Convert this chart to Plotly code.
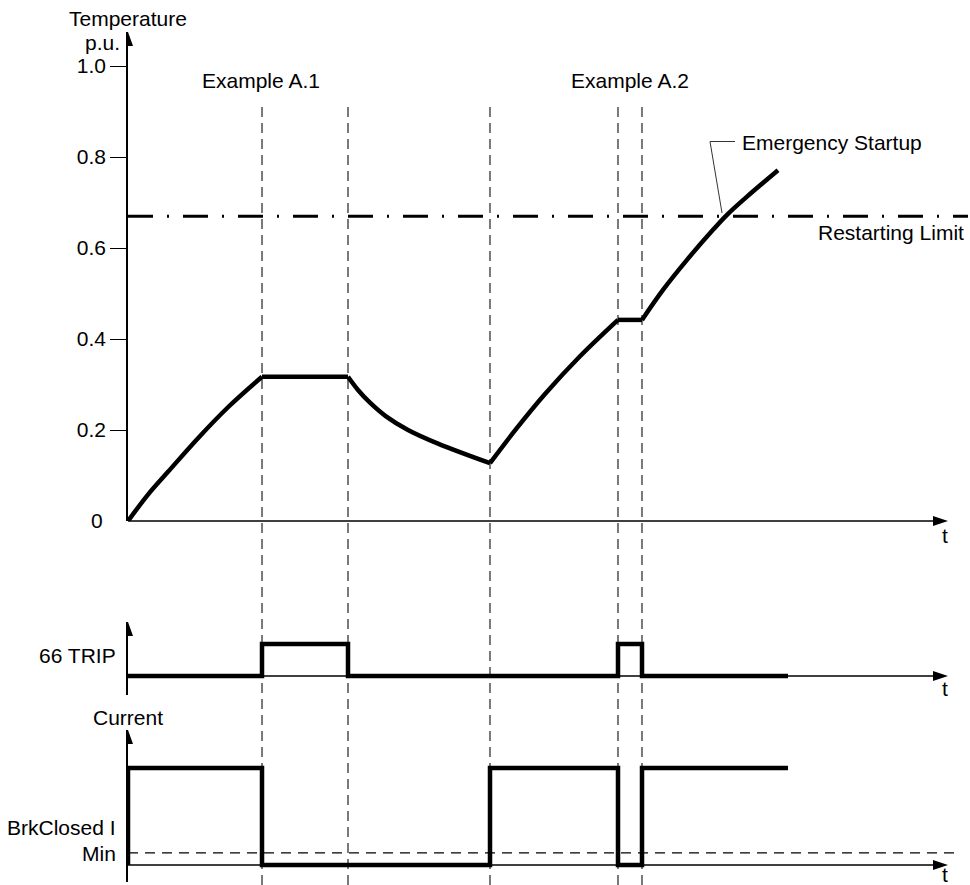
import plotly.graph_objects as go

# ---------------- data ----------------
event_t = [134, 220, 362, 490, 514]          # dashed event markers
temp_t = [0, 20, 40, 70, 100, 134, 220, 230, 242, 258, 280, 310, 362,
          387, 417, 452, 490, 514, 535, 559, 585, 599, 619, 650]
temp_v = [0, 0.058, 0.108, 0.182, 0.250, 0.317, 0.317, 0.288, 0.260, 0.230,
          0.200, 0.170, 0.127, 0.199, 0.279, 0.362, 0.442, 0.442, 0.508,
          0.574, 0.640, 0.673, 0.713, 0.771]
restart_limit = 0.67
limit_t = [0, 840]

trip_t = [0, 134, 220, 490, 514, 660]
trip_v = [0, 1, 0, 1, 0, 0]

current_t = [0, 0, 134, 362, 490, 514, 660]
current_v = [0, 1, 0, 1, 0, 1, 1]
brk_closed_min = 0.124
brk_t = [0, 830]

temp_tickvals = [0.2, 0.4, 0.6, 0.8, 1.0]
temp_ticktext = ["0.2", "0.4", "0.6", "0.8", "1.0"]
zero_tickvals = [0]
zero_ticktext = ["0"]

segment_breaks = [0, 134, 220, 362, 490, 514, 650]

# ---------------- layout geometry (pixels) ----------------
W, H = 970, 885
L = 128
FONT = "Liberation Sans, Arial, sans-serif"
FS = 21


def py(px):
    return (H - px) / H


def pxx(px):
    return (px - L) / (W - L)


TOP_ZERO, TOP_TIP = 521, 32
TRIP_ZERO, TRIP_TOP, TRIP_BOT = 676, 622, 695
CUR_ZERO, CUR_TOP, CUR_BOT = 865, 730, 882
CUR_PX_PER_UNIT = 97
T_TIP = 820  # x of horizontal arrow tips (time units == px offset)

fig = go.Figure()

# temperature curve, drawn per segment so the kinks stay sharp
for a, b in zip(segment_breaks[:-1], segment_breaks[1:]):
    xs = [t for t in temp_t if a <= t <= b]
    ys = [v for t, v in zip(temp_t, temp_v) if a <= t <= b]
    fig.add_trace(go.Scatter(x=xs, y=ys, mode="lines",
                             line=dict(color="black", width=4.5, shape="spline", smoothing=1.0),
                             xaxis="x", yaxis="y", showlegend=False, hoverinfo="skip"))

# restarting limit
fig.add_trace(go.Scatter(x=limit_t, y=[restart_limit] * 2, mode="lines",
                         line=dict(color="black", width=3, dash="25px,14px,2px,14px"),
                         xaxis="x", yaxis="y", showlegend=False, hoverinfo="skip"))

# emergency startup leader line
fig.add_trace(go.Scatter(x=[607, 582, 594], y=[0.834, 0.834, 0.677], mode="lines",
                         line=dict(color="#333", width=1),
                         xaxis="x", yaxis="y", showlegend=False, hoverinfo="skip"))

# 66 TRIP signal
fig.add_trace(go.Scatter(x=trip_t, y=trip_v, mode="lines",
                         line=dict(color="black", width=4.5, shape="hv"),
                         xaxis="x", yaxis="y2", showlegend=False, hoverinfo="skip"))

# BrkClosed I Min threshold
fig.add_trace(go.Scatter(x=brk_t, y=[brk_closed_min] * 2, mode="lines",
                         line=dict(color="black", width=1.2, dash="10px,7px"),
                         xaxis="x", yaxis="y3", showlegend=False, hoverinfo="skip"))

# current signal
fig.add_trace(go.Scatter(x=current_t, y=current_v, mode="lines",
                         line=dict(color="black", width=4.5, shape="hv"),
                         xaxis="x", yaxis="y3", showlegend=False, hoverinfo="skip"))

# bottom "t" label as a text trace (does not push the page margin)
fig.add_trace(go.Scatter(x=[T_TIP - 3], y=[(CUR_ZERO - 877) / CUR_PX_PER_UNIT], mode="text",
                         text=["t"], textposition="middle center", cliponaxis=False,
                         textfont=dict(family=FONT, size=FS, color="black"),
                         xaxis="x", yaxis="y3", showlegend=False, hoverinfo="skip"))

# hidden trace to activate the zero-label axis
fig.add_trace(go.Scatter(x=[0], y=[0], mode="markers", marker=dict(opacity=0),
                         xaxis="x", yaxis="y4", showlegend=False, hoverinfo="skip"))

shapes = []
# event dashed lines
for t in event_t:
    shapes.append(dict(type="line", xref="x", yref="paper", x0=t, x1=t,
                       y0=0, y1=py(103), layer="below",
                       line=dict(color="#222", width=1.2, dash="10px,6px")))
# horizontal time axes + arrowheads
for zero_px in (TOP_ZERO, TRIP_ZERO, CUR_ZERO):
    shapes.append(dict(type="line", xref="x", yref="paper", x0=0, x1=T_TIP - 10,
                       y0=py(zero_px), y1=py(zero_px), layer="below",
                       line=dict(color="black", width=1.5)))
    shapes.append(dict(type="path", xref="x", yref="paper",
                       path=f"M {T_TIP} {py(zero_px)} L {T_TIP-15} {py(zero_px-5)} "
                            f"L {T_TIP-15} {py(zero_px+5)} Z",
                       fillcolor="black", line=dict(width=0)))
# vertical axis arrowheads
for tip_px in (TOP_TIP, TRIP_TOP, CUR_TOP):
    shapes.append(dict(type="path", xref="x", yref="paper",
                       path=f"M 0 {py(tip_px)} L -5 {py(tip_px+14)} L 5 {py(tip_px+14)} Z",
                       fillcolor="black", line=dict(width=0)))


def txt(text, xpx, ypx, xanchor="center"):
    return dict(text=text, x=pxx(xpx), y=py(ypx), xref="paper", yref="paper",
                xanchor=xanchor, yanchor="middle", showarrow=False,
                font=dict(family=FONT, size=FS, color="black"))


annotations = [
    txt("Temperature", 128, 18),
    txt("p.u.", 122, 43, "right"),
    txt("Example A.1", 261, 80),
    txt("Example A.2", 630, 80),
    txt("Emergency Startup", 740, 142, "left"),
    txt("Restarting Limit", 966, 232, "right"),
    txt("t", 945, 536),
    txt("t", 945, 688),
    txt("66 TRIP", 118, 655, "right"),
    txt("Current", 128, 717),
    txt("BrkClosed I", 118, 827, "right"),
    txt("Min", 118, 853, "right"),
]

axis_common = dict(showgrid=False, zeroline=False, anchor="x",
                   showline=True, linecolor="black", linewidth=1.5)

top_range = [0, (TOP_ZERO - TOP_TIP) / 455]
fig.update_layout(
    width=W, height=H, autosize=False,
    margin=dict(l=L, r=0, t=0, b=0, pad=0, autoexpand=False),
    paper_bgcolor="white", plot_bgcolor="white",
    showlegend=False,
    xaxis=dict(range=[0, W - L], visible=False, domain=[0, 1]),
    yaxis=dict(domain=[py(TOP_ZERO), py(TOP_TIP)], range=top_range,
               tickmode="array", tickvals=temp_tickvals, ticktext=temp_ticktext,
               ticks="outside", ticklen=16, tickwidth=1.2, tickcolor="black",
               tickfont=dict(family=FONT, size=FS, color="black"), **axis_common),
    yaxis4=dict(overlaying="y", range=top_range, anchor="x", side="left",
                tickmode="array", tickvals=zero_tickvals, ticktext=zero_ticktext,
                ticks="outside", ticklen=20, tickcolor="rgba(0,0,0,0)",
                showline=False, showgrid=False, zeroline=False,
                tickfont=dict(family=FONT, size=FS, color="black")),
    yaxis2=dict(domain=[py(TRIP_BOT), py(TRIP_TOP)],
                range=[(TRIP_ZERO - TRIP_BOT) / 32, (TRIP_ZERO - TRIP_TOP) / 32],
                showticklabels=False, ticks="", **axis_common),
    yaxis3=dict(domain=[py(CUR_BOT), py(CUR_TOP)],
                range=[(CUR_ZERO - CUR_BOT) / CUR_PX_PER_UNIT,
                       (CUR_ZERO - CUR_TOP) / CUR_PX_PER_UNIT],
                showticklabels=False, ticks="", **axis_common),
    shapes=shapes,
    annotations=annotations,
)

fig.write_html("out.html", config={"displayModeBar": False},
               post_script="document.body.style.margin='0';")
